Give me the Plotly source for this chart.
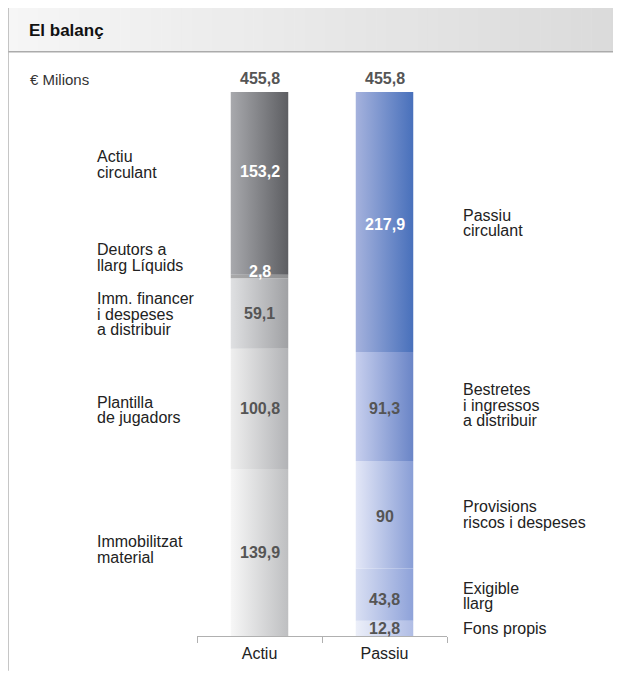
import plotly.graph_objects as go

# ---------------- data ----------------
categories = ["Actiu", "Passiu"]
totals = [455.8, 455.8]

# segments listed from bottom to top
actiu_values = [139.9, 100.8, 59.1, 2.8, 153.2]
actiu_names = [
    ["Immobilitzat", "material"],
    ["Plantilla", "de jugadors"],
    ["Imm. financer", "i despeses", "a distribuir"],
    ["Deutors a", "llarg Líquids"],
    ["Actiu", "circulant"],
]
passiu_values = [12.8, 43.8, 90, 91.3, 217.9]
passiu_names = [
    ["Fons propis"],
    ["Exigible", "llarg"],
    ["Provisions", "riscos i despeses"],
    ["Bestretes", "i ingressos", "a distribuir"],
    ["Passiu", "circulant"],
]

title = "El balanç"
unit_label = "€ Milions"

# ---------------- style ----------------
FONT = "Liberation Sans, Arial, Helvetica, sans-serif"
actiu_colors = [("#f7f7f7", "#bebfc1"), ("#efefef", "#b2b3b6"), ("#dfe0e2", "#a0a1a4"),
                ("#a9a9aa", "#8e8f91"), ("#a8a9ad", "#5d5e62")]
passiu_colors = [("#eceff9", "#b0bde5"), ("#d9dff3", "#8ea2d9"), ("#e3e7f7", "#899ed6"),
                 ("#c7cfee", "#6a85c7"), ("#a5b2dd", "#4870bb")]
actiu_txtcol = ["#555555", "#555555", "#555555", "#ffffff", "#ffffff"]
passiu_txtcol = ["#555555", "#555555", "#555555", "#555555", "#ffffff"]
actiu_val_shift = [0, 0, 0, 5, 12]
passiu_val_shift = [0, -5, -2, -2, -2]
actiu_name_shift = [3, -1, -1, 19, 19]
passiu_name_shift = [0, -1.5, 0, 1.5, -1]
LINE_GAP = 15.5
HALF_W = 0.23

OFF = 8                      # page body margin
W, H = 621 - OFF, 674 - OFF
ML = 197 - OFF
MR = W - (447 - OFF)
MT = 92 - OFF
MB = H - (641 - OFF)
PW, PH = W - ML - MR, H - MT - MB


def px2x(px):
    """reference-picture x pixel -> paper coordinate"""
    return (px - OFF - ML) / PW


def py2y(py):
    """reference-picture y pixel -> paper coordinate"""
    return (H - MB - (py - OFF)) / PH


def fmt(v):
    return f"{v:g}".replace(".", ",")


fig = go.Figure()
annotations = []

series = [
    (actiu_values, actiu_names, actiu_colors, actiu_txtcol, actiu_val_shift, actiu_name_shift, 95),
    (passiu_values, passiu_names, passiu_colors, passiu_txtcol, passiu_val_shift, passiu_name_shift, 461),
]

for xi, (vals, names, cols, tcols, vshift, nshift, name_px) in enumerate(series):
    base = 0.0
    for v, nm, (c0, c1), tc, vs, ns in zip(vals, names, cols, tcols, vshift, nshift):
        top = base + v
        x0, x1 = xi - HALF_W, xi + HALF_W
        fig.add_trace(go.Scatter(
            x=[x0, x1, x1, x0, x0], y=[base, base, top, top, base],
            mode="lines", fill="toself", line=dict(width=0),
            fillgradient=dict(type="horizontal", colorscale=[[0, c0], [1, c1]]),
            hoverinfo="skip", showlegend=False,
        ))
        mid = (base + top) / 2
        annotations.append(dict(
            x=xi, y=mid, xref="x", yref="y", text=f"<b>{fmt(v)}</b>", showarrow=False,
            yshift=vs, font=dict(family=FONT, size=16, color=tc),
        ))
        n = len(nm)
        for i, line in enumerate(nm):
            off = ns + ((n - 1) / 2 - i) * LINE_GAP
            annotations.append(dict(
                x=px2x(name_px), y=mid, xref="paper", yref="y", text=line, showarrow=False,
                xanchor="left", yanchor="middle", yshift=off,
                font=dict(family=FONT, size=16, color="#222222"),
            ))
        base = top
    annotations.append(dict(
        x=xi, y=totals[xi], xref="x", yref="y", text=f"<b>{fmt(totals[xi])}</b>",
        showarrow=False, yanchor="middle", yshift=14,
        font=dict(family=FONT, size=16, color="#555555"),
    ))

annotations.append(dict(
    x=px2x(27), y=py2y(29.5), xref="paper", yref="paper", text=f"<b>{title}</b>",
    showarrow=False, xanchor="left", yanchor="middle",
    font=dict(family=FONT, size=17, color="#111111"),
))
annotations.append(dict(
    x=px2x(28), y=py2y(79), xref="paper", yref="paper", text=unit_label,
    showarrow=False, xanchor="left", yanchor="middle",
    font=dict(family=FONT, size=15, color="#333333"),
))

shapes = []
# header gradient band
N = 60
hx0, hx1 = 7.5, 622
g0, g1 = 0xf6, 0xda
for i in range(N):
    a = hx0 + (hx1 - hx0) * i / N
    b = hx0 + (hx1 - hx0) * (i + 1) / N + 0.6
    g = round(g0 + (g1 - g0) * (i + 0.5) / N)
    col = f"rgb({g},{g},{g})"
    shapes.append(dict(type="rect", xref="paper", yref="paper",
                       x0=px2x(a), x1=px2x(b), y0=py2y(51.5), y1=py2y(6),
                       fillcolor=col, line=dict(width=0), layer="below"))
# header borders and left frame
for yy in (6, 51.5):
    shapes.append(dict(type="line", xref="paper", yref="paper",
                       x0=px2x(7.5), x1=px2x(622), y0=py2y(yy), y1=py2y(yy),
                       line=dict(color="#ababab", width=1.5)))
shapes.append(dict(type="line", xref="paper", yref="paper",
                   x0=px2x(8), x1=px2x(8), y0=py2y(6), y1=py2y(676),
                   line=dict(color="#b3b3b3", width=1.5)))

fig.update_layout(
    width=W, height=H,
    margin=dict(l=ML, r=MR, t=MT, b=MB, pad=0),
    paper_bgcolor="white", plot_bgcolor="white",
    showlegend=False,
    annotations=annotations, shapes=shapes,
    xaxis=dict(
        range=[-0.5, 1.5], tickmode="array", tickvals=[0, 1], ticktext=categories,
        ticks="", showgrid=False, zeroline=False, showline=True,
        linecolor="#b0b0b0", linewidth=1, ticklabelstandoff=3,
        tickfont=dict(family=FONT, size=16, color="#222222"),
        minor=dict(tickmode="array", tickvals=[-0.5, 0.5, 1.5], ticks="outside",
                   ticklen=6, tickcolor="#b0b0b0", tickwidth=1, showgrid=False),
        fixedrange=True,
    ),
    yaxis=dict(range=[0, totals[0]], visible=False, showgrid=False, zeroline=False,
               fixedrange=True),
)

fig.write_html("out.html")
